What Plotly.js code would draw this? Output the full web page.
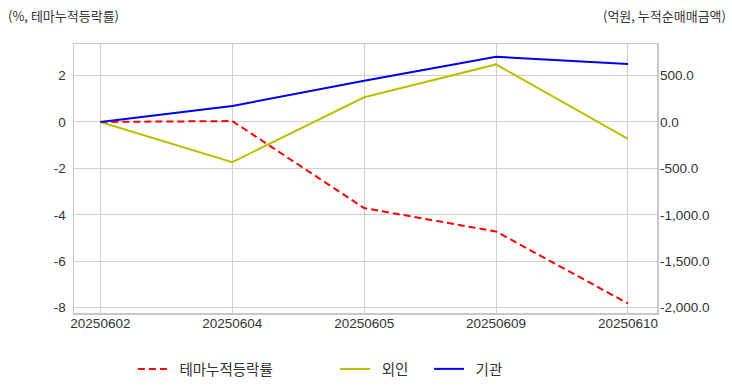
<!DOCTYPE html>
<html><head><meta charset="utf-8">
<script src="https://cdn.plot.ly/plotly-3.0.1.min.js"></script>
<style>html,body{margin:0;padding:0;background:#fff}#chart{width:732px;height:392px}</style>
</head><body><div id="chart"></div>
<script>
const dates = ["20250602", "20250604", "20250605", "20250609", "20250610"];
const themeReturn = [0, 0.04, -3.71, -4.72, -7.82];
const foreignNet = [0, -433, 266, 620, -183];
const instNet = [0, 172, 444, 702, 624];
const leftTicks = [2, 0, -2, -4, -6, -8];
const leftTickText = ["2", "0", "-2", "-4", "-6", "-8"];
const rightTicks = [500, 0, -500, -1000, -1500, -2000];
const rightTickText = ["500.0", "0.0", "-500.0", "-1,000.0", "-1,500.0", "-2,000.0"];

const FONT = "Liberation Sans, Noto Sans CJK KR, sans-serif";
const KFONT = "Noto Sans CJK KR, sans-serif";
const GRID = "#d0d0d0";
const PAD = "\u00A0\u00A0";

const traces = [
  {x: dates, y: themeReturn, name: PAD + "테마누적등락률", type: "scatter", mode: "lines",
   line: {color: "#ff0000", width: 2, dash: "7px,4px"}, yaxis: "y", legend: "legend"},
  {x: dates, y: foreignNet, name: PAD + "외인", type: "scatter", mode: "lines",
   line: {color: "#bfbf00", width: 2}, yaxis: "y2", legend: "legend2"},
  {x: dates, y: instNet, name: PAD + "기관", type: "scatter", mode: "lines",
   line: {color: "#0000ee", width: 2}, yaxis: "y2", legend: "legend3"}
];

const legendBase = {orientation: "h", yanchor: "middle", y: -0.208, xanchor: "left",
  font: {family: KFONT, size: 14.5, color: "#333"}, bgcolor: "rgba(0,0,0,0)"};

const layout = {
  width: 732, height: 392,
  margin: {l: 74, r: 75, t: 44, b: 79, autoexpand: false},
  paper_bgcolor: "#fff", plot_bgcolor: "#fff",
  font: {family: FONT, size: 13.5, color: "#333"},
  showlegend: true,
  xaxis: {type: "category", range: [-0.2, 4.22], showgrid: true, gridcolor: GRID, gridwidth: 1,
    showline: true, linecolor: "#c8c8c8", linewidth: 1.5, mirror: true, ticks: "",
    ticklabelstandoff: -3,
    tickfont: {family: FONT, size: 13.5, color: "#333"}, zeroline: false, fixedrange: true},
  yaxis: {range: [-8.23, 3.36], tickvals: leftTicks, ticktext: leftTickText, showgrid: true,
    gridcolor: GRID, gridwidth: 1, zeroline: false, showline: true, linecolor: "#c8c8c8",
    linewidth: 1.5, mirror: true, ticks: "", ticklabelstandoff: 4,
    tickfont: {family: FONT, size: 13.5, color: "#333"}},
  yaxis2: {overlaying: "y", side: "right", range: [-2058, 840], tickvals: rightTicks,
    ticktext: rightTickText, showgrid: true, gridcolor: GRID, gridwidth: 1, zeroline: false,
    showline: false, ticks: "", ticklabelstandoff: 2,
    tickfont: {family: FONT, size: 13.5, color: "#333"}},
  legend: Object.assign({}, legendBase, {x: 0.101}),
  legend2: Object.assign({}, legendBase, {x: 0.448}),
  legend3: Object.assign({}, legendBase, {x: 0.609}),
  annotations: [
    {text: "(%, 테마누적등락률)", xref: "paper", yref: "paper", x: -0.117, y: 1.105,
     xanchor: "left", yanchor: "middle", showarrow: false,
     font: {family: KFONT, size: 13, color: "#333"}},
    {text: "(억원, 누적순매매금액)", xref: "paper", yref: "paper", x: 1.122, y: 1.105,
     xanchor: "right", yanchor: "middle", showarrow: false,
     font: {family: KFONT, size: 13, color: "#333"}}
  ]
};

Plotly.newPlot("chart", traces, layout, {displayModeBar: false, staticPlot: true});
</script></body></html>
